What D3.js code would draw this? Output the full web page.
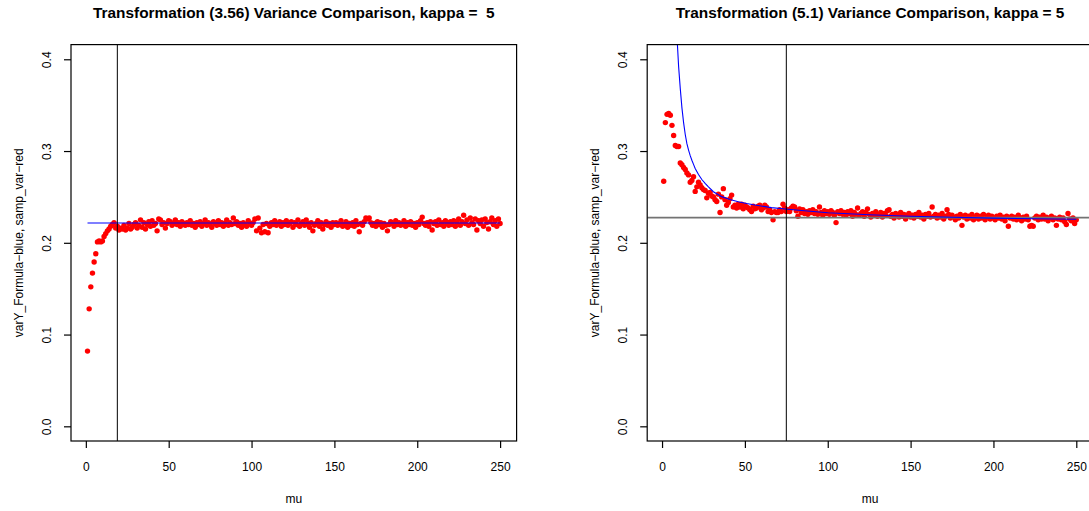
<!DOCTYPE html>
<html><head><meta charset="utf-8">
<script src="https://cdn.jsdelivr.net/npm/d3@7"></script>
<style>
body{margin:0;background:#fff}
svg{display:block}
text{font-family:"Liberation Sans",Arial,Helvetica,sans-serif}
</style>
</head><body>
<svg id="c" width="1089" height="511"></svg>
<script>
// ---------------- data ----------------
const mu = d3.range(1, 251); // mu = 1..250

const sampVar1 = [
0.082,0.128,0.152,0.167,0.179,0.188,0.201,0.202,0.201,0.202,
0.207,0.210,0.213,0.215,0.218,0.220,0.222,0.216,0.218,0.214,
0.216,0.215,0.219,0.214,0.216,0.221,0.215,0.217,0.220,0.222,
0.216,0.219,0.225,0.217,0.222,0.215,0.220,0.223,0.218,0.224,
0.219,0.221,0.213,0.226,0.225,0.220,0.222,0.216,0.221,0.224,
0.223,0.219,0.221,0.225,0.220,0.222,0.218,0.223,0.221,0.219,
0.222,0.220,0.224,0.219,0.221,0.217,0.222,0.220,0.223,0.218,
0.221,0.225,0.219,0.222,0.220,0.217,0.223,0.221,0.219,0.224,
0.220,0.222,0.218,0.221,0.225,0.219,0.222,0.220,0.227,0.221,
0.223,0.219,0.221,0.217,0.222,0.220,0.218,0.224,0.221,0.219,
0.222,0.226,0.213,0.227,0.216,0.211,0.220,0.212,0.221,0.211,
0.218,0.222,0.220,0.224,0.219,0.221,0.223,0.218,0.222,0.220,
0.224,0.219,0.221,0.223,0.217,0.222,0.220,0.225,0.218,0.221,
0.223,0.219,0.225,0.221,0.217,0.222,0.213,0.219,0.221,0.224,
0.218,0.222,0.215,0.220,0.223,0.219,0.221,0.217,0.222,0.220,
0.222,0.219,0.221,0.224,0.218,0.220,0.223,0.217,0.221,0.219,
0.222,0.218,0.224,0.220,0.212,0.221,0.219,0.223,0.227,0.226,
0.227,0.222,0.219,0.221,0.218,0.223,0.220,0.222,0.217,0.221,
0.219,0.213,0.220,0.223,0.221,0.218,0.224,0.220,0.222,0.219,
0.221,0.224,0.218,0.222,0.220,0.223,0.219,0.221,0.217,0.222,
0.220,0.224,0.228,0.221,0.219,0.222,0.218,0.223,0.214,0.221,
0.223,0.219,0.225,0.220,0.222,0.218,0.224,0.221,0.219,0.223,
0.220,0.224,0.218,0.222,0.226,0.219,0.223,0.230,0.221,0.225,
0.219,0.227,0.222,0.220,0.226,0.214,0.224,0.221,0.225,0.218,
0.226,0.222,0.215,0.223,0.227,0.220,0.224,0.218,0.226,0.221
];

const sampVar2 = [
0.267,0.331,0.340,0.341,0.339,0.328,0.317,0.306,0.305,0.305,
0.287,0.285,0.282,0.280,0.276,0.274,0.266,0.268,0.272,0.256,
0.261,0.266,0.263,0.260,0.258,0.257,0.249,0.254,0.255,0.251,
0.250,0.247,0.245,0.253,0.233,0.250,0.259,0.247,0.241,0.244,
0.248,0.252,0.239,0.241,0.238,0.242,0.239,0.242,0.237,0.241,
0.239,0.238,0.236,0.234,0.240,0.237,0.238,0.240,0.241,0.236,
0.238,0.241,0.239,0.234,0.236,0.233,0.225,0.234,0.233,0.233,
0.236,0.234,0.242,0.238,0.234,0.236,0.234,0.238,0.240,0.239,
0.235,0.229,0.237,0.233,0.236,0.232,0.234,0.231,0.235,0.233,
0.236,0.232,0.234,0.231,0.239,0.233,0.230,0.235,0.232,0.234,
0.231,0.235,0.233,0.230,0.222,0.234,0.232,0.235,0.231,0.233,
0.230,0.234,0.232,0.235,0.229,0.233,0.231,0.238,0.230,0.232,
0.234,0.229,0.233,0.237,0.231,0.228,0.232,0.230,0.234,0.229,
0.231,0.233,0.228,0.232,0.230,0.235,0.236,0.229,0.231,0.227,
0.232,0.230,0.228,0.233,0.229,0.231,0.226,0.230,0.232,0.228,
0.230,0.227,0.231,0.229,0.233,0.228,0.230,0.226,0.231,0.229,
0.232,0.228,0.239,0.229,0.231,0.227,0.230,0.228,0.232,0.226,
0.229,0.236,0.231,0.227,0.230,0.228,0.225,0.229,0.227,0.231,
0.219,0.228,0.230,0.226,0.229,0.227,0.231,0.225,0.228,0.230,
0.226,0.229,0.227,0.231,0.225,0.228,0.230,0.226,0.229,0.227,
0.225,0.229,0.227,0.230,0.226,0.228,0.224,0.229,0.218,0.227,
0.229,0.226,0.228,0.225,0.230,0.227,0.224,0.228,0.226,0.229,
0.225,0.218,0.219,0.218,0.227,0.229,0.225,0.228,0.226,0.230,
0.226,0.228,0.224,0.227,0.229,0.225,0.227,0.219,0.226,0.228,
0.225,0.227,0.223,0.220,0.232,0.226,0.224,0.227,0.221,0.225
];

// blue "formula" curves
const formula1Mu = [1, 250];
const formula1   = [0.2215, 0.2215];
const formula2Mu = [7, 8, 9, 10, 11, 12, 13, 14, 15, 16, 17, 18, 19, 20, 22, 24, 26, 28, 31, 36, 41, 46, 51, 56, 66, 76, 86, 100, 125, 150, 175, 200, 225, 250];
const formula2   = [0.560, 0.480, 0.425, 0.392, 0.368, 0.347, 0.331, 0.318, 0.308, 0.301, 0.295, 0.290, 0.2855, 0.281, 0.2745, 0.269, 0.2648, 0.261, 0.2557, 0.2503, 0.2472, 0.2448, 0.2428, 0.2412, 0.2383, 0.2365, 0.2350, 0.2328, 0.2305, 0.2290, 0.2278, 0.2269, 0.2262, 0.2257];

const titles = ["Transformation (3.56) Variance Comparison, kappa =  5",
                "Transformation (5.1) Variance Comparison, kappa = 5"];
const xTicks = [0, 50, 100, 150, 200, 250];
const yTicks = [0.0, 0.1, 0.2, 0.3, 0.4];
const vLineMu = [19, 75];
const hLine = [null, 0.2274];
const xLabel = "mu";
const yLabel = "varY_Formula\u2212blue, samp_var\u2212red";

// ---------------- layout ----------------
const svg = d3.select("#c");
const plotTop = 44.6, plotBottom = 441;
const panels = [
  {left: 71,    right: 516.6, data: sampVar1, fMu: formula1Mu, f: formula1},
  {left: 647.2, right: 1092.8, data: sampVar2, fMu: formula2Mu, f: formula2}
];
const y = d3.scaleLinear().domain([-0.016, 0.416]).range([plotBottom, plotTop]);

panels.forEach((p, i) => {
  const x = d3.scaleLinear().domain([-8.96, 259.96]).range([p.left, p.right]);
  const g = svg.append("g");
  const clipId = "clip" + i;
  svg.append("clipPath").attr("id", clipId).append("rect")
    .attr("x", p.left).attr("y", plotTop).attr("width", p.right - p.left).attr("height", plotBottom - plotTop);
  const plot = g.append("g").attr("clip-path", `url(#${clipId})`);

  // red points
  plot.selectAll("circle").data(p.data).enter().append("circle")
    .attr("cx", (d, k) => x(mu[k])).attr("cy", d => y(d))
    .attr("r", 2.7).attr("fill", "#ff0000");

  // gray horizontal line
  if (hLine[i] !== null) {
    plot.append("line").attr("x1", p.left).attr("x2", p.right)
      .attr("y1", y(hLine[i])).attr("y2", y(hLine[i]))
      .attr("stroke", "#737373").attr("stroke-width", 1.8);
  }
  // blue formula line
  const line = d3.line().x((d, k) => x(p.fMu[k])).y(d => y(d));
  plot.append("path").datum(p.f).attr("d", line)
    .attr("fill", "none").attr("stroke", "#0000ff").attr("stroke-width", 1.1);

  // vertical line
  plot.append("line").attr("x1", x(vLineMu[i])).attr("x2", x(vLineMu[i]))
    .attr("y1", plotTop).attr("y2", plotBottom).attr("stroke", "#000").attr("stroke-width", 1);

  // box
  g.append("rect").attr("x", p.left).attr("y", plotTop)
    .attr("width", p.right - p.left).attr("height", plotBottom - plotTop)
    .attr("fill", "none").attr("stroke", "#000").attr("stroke-width", 1.2);

  // x axis
  const xa = g.append("g").attr("transform", `translate(0,${plotBottom})`)
    .call(d3.axisBottom(x).tickValues(xTicks).tickSize(7).tickPadding(14).tickFormat(d3.format("d")));
  xa.select(".domain").remove();
  xa.selectAll("line").attr("stroke", "#000").attr("stroke-width", 1.2);
  xa.selectAll("text").attr("font-size", 12).attr("fill", "#000")
    .style("font-family", '"Liberation Sans",Arial,Helvetica,sans-serif');

  // y axis
  const ya = g.append("g").attr("transform", `translate(${p.left},0)`)
    .call(d3.axisLeft(y).tickValues(yTicks).tickSize(7).tickFormat(d3.format(".1f")));
  ya.select(".domain").remove();
  ya.selectAll("line").attr("stroke", "#000").attr("stroke-width", 1.2);
  ya.selectAll("text").attr("font-size", 12).attr("fill", "#000")
    .style("font-family", '"Liberation Sans",Arial,Helvetica,sans-serif')
    .attr("transform", "rotate(-90)").attr("x", 0).attr("y", -20).attr("dy", 0)
    .style("text-anchor", "middle");

  const cx = (p.left + p.right) / 2;
  // title
  g.append("text").attr("x", cx).attr("y", 18).attr("text-anchor", "middle")
    .style("white-space", "pre").attr("xml:space", "preserve")
    .attr("font-size", 15.4).attr("font-weight", "bold").text(titles[i]);
  // x label
  g.append("text").attr("x", cx).attr("y", 502.5).attr("text-anchor", "middle")
    .attr("font-size", 12).text(xLabel);
  // y label
  g.append("text").attr("transform", `translate(${p.left - 48},${(plotTop + plotBottom) / 2}) rotate(-90)`)
    .attr("text-anchor", "middle").attr("font-size", 12).text(yLabel);
});
</script>
</body></html>
